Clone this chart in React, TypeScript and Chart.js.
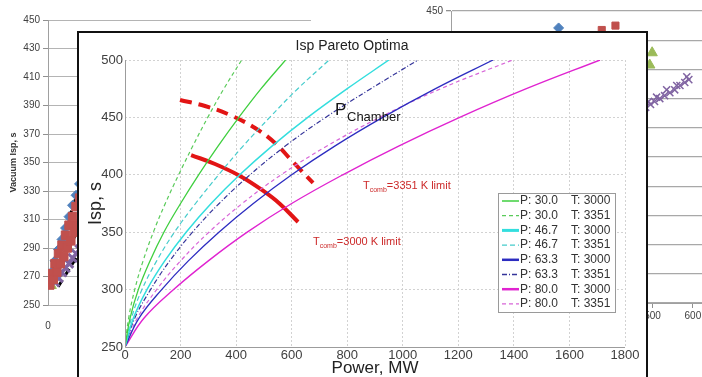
import React, { useEffect, useRef } from "react";
import { Chart, registerables } from "chart.js";

Chart.register(...registerables);

// ---------- Foreground chart: Isp Pareto Optima ----------
const ISP_LEVELS = [250, 275, 300, 325, 350, 375, 400, 425, 450, 475, 500];
const POWER_P30_T3000 = [0, 18, 48, 90, 140, 200, 265, 335, 410, 490, 578];
const POWER_P30_T3351 = [0, 13, 35, 65, 102, 145, 193, 244, 298, 356, 420];
const POWER_P467_T3000 = [0, 30, 79, 143, 220, 310, 413, 529, 658, 800, 950];
const POWER_P467_T3351 = [0, 23, 61, 114, 178, 254, 337, 425, 521, 622, 735];
const POWER_P633_T3000 = [0, 50, 132, 228, 338, 462, 600, 755, 928, 1118, 1325];
const POWER_P633_T3351 = [0, 35, 92, 161, 243, 339, 450, 577, 722, 885, 1055];
const POWER_P80_T3000 = [0, 68, 175, 300, 440, 600, 784, 985, 1205, 1445, 1710];
const POWER_P80_T3351 = [0, 44, 114, 200, 302, 422, 562, 727, 917, 1137, 1395];

const SERIES_P = ["30.0", "30.0", "46.7", "46.7", "63.3", "63.3", "80.0", "80.0"];
const SERIES_T = ["3000", "3351", "3000", "3351", "3000", "3351", "3000", "3351"];
const SERIES_POWER = [
  POWER_P30_T3000, POWER_P30_T3351, POWER_P467_T3000, POWER_P467_T3351,
  POWER_P633_T3000, POWER_P633_T3351, POWER_P80_T3000, POWER_P80_T3351,
];

const LIMIT_3000_POWER = [238, 324, 414, 493, 558, 623];
const LIMIT_3000_ISP = [417.2, 409.4, 399, 386.8, 374.6, 358.9];
const LIMIT_3351_POWER = [198, 288, 378, 468, 540, 605, 677];
const LIMIT_3351_ISP = [465.2, 459.9, 452.1, 440.8, 427.7, 411.1, 392.9];

const FG_X_TICKS = [0, 200, 400, 600, 800, 1000, 1200, 1400, 1600, 1800];
const FG_Y_TICKS = [250, 300, 350, 400, 450, 500];

// ---------- Background left chart (Vacuum Isp) ----------
const BGL_BLUE_X = [3, 10, 20, 30, 40, 50, 60, 70, 80, 90];
const BGL_BLUE_Y = [268, 273, 281, 289, 296, 304, 312, 320, 327, 335];
const BGL_RED_X = [0, 10, 20, 30, 40, 50, 60, 70, 80, 90, 5, 15, 25, 35, 45, 55, 65, 75, 85];
const BGL_RED_Y = [266, 272, 279, 286, 292, 299, 306, 312, 319, 325, 264, 268, 273, 279, 284, 290, 295, 301, 306];
const BGL_GREEN_X = [14, 40, 63];
const BGL_GREEN_Y = [263, 278, 289];
const BGL_PURPLE_X = [20, 30, 40, 50, 60, 70, 80, 90];
const BGL_PURPLE_Y = [266, 269, 273, 276, 279, 283, 286, 289];
const BGL_DASH1_X = [1, 82];
const BGL_DASH1_Y = [267.5, 327];
const BGL_DASH2_X = [10.5, 82];
const BGL_DASH2_Y = [264, 301.4];
const BGL_DASH3_X = [29, 82];
const BGL_DASH3_Y = [262.8, 283.9];
const BGL_X_TICKS = [0];

// ---------- Background right chart ----------
const BGR_BLUE_X = [267];
const BGR_BLUE_Y = [438.4];
const BGR_RED_X = [374, 408];
const BGR_RED_Y = [437, 440];
const BGR_GREEN_X = [499, 493];
const BGR_GREEN_Y = [421.4, 413];
const BGR_PURPLE_X = [483, 495, 505, 518, 530, 543, 555, 568, 580, 590, 490, 510, 535, 560, 585];
const BGR_PURPLE_Y = [384, 386, 388, 390, 392, 394, 396, 399, 401, 403, 388, 391, 396, 399, 405];
const BGR_X_TICKS = [0, 100, 200, 300, 400, 500, 600];

const BG_Y_TICKS = [250, 270, 290, 310, 330, 350, 370, 390, 410, 430, 450];

const pts = (xs: number[], ys: number[]) => xs.map((x, i) => ({ x, y: ys[i] }));

const SERIES_STYLE = [
  { color: "#3fcf3f", dash: [] as number[], width: 1.3 },
  { color: "#5acb5a", dash: [4, 3], width: 1.2 },
  { color: "#33dede", dash: [], width: 1.5 },
  { color: "#45cccc", dash: [5, 3], width: 1.2 },
  { color: "#2c2cc0", dash: [], width: 1.3 },
  { color: "#35359a", dash: [5, 2, 1, 2], width: 1.2 },
  { color: "#e023d0", dash: [], width: 1.4 },
  { color: "#d866d8", dash: [4, 3], width: 1.2 },
];
const LEGEND_WIDTH = [1.5, 1.3, 3, 1.3, 2.5, 1.3, 2.5, 1.3];

const FONT = "'Liberation Sans', Arial, sans-serif";

const fgDecor = {
  id: "fgDecor",
  afterDraw(chart: any) {
    const ctx = chart.ctx as CanvasRenderingContext2D;
    const ca = chart.chartArea;
    ctx.save();
    ctx.strokeStyle = "#9c9c9c";
    ctx.lineWidth = 1;
    ctx.setLineDash([]);
    ctx.beginPath();
    ctx.moveTo(Math.round(ca.left) + 0.5, ca.top);
    ctx.lineTo(Math.round(ca.left) + 0.5, Math.round(ca.bottom) + 0.5);
    ctx.lineTo(ca.right, Math.round(ca.bottom) + 0.5);
    ctx.stroke();

    ctx.fillStyle = "#151515";
    ctx.textBaseline = "alphabetic";
    ctx.textAlign = "left";
    ctx.font = `17px ${FONT}`;
    ctx.fillText("P", 256, 82);
    ctx.font = `13px ${FONT}`;
    ctx.fillText("Chamber", 268, 88);

    const drawLimit = (x: number, y: number, val: string) => {
      ctx.fillStyle = "#cc2a2a";
      ctx.font = `11px ${FONT}`;
      ctx.fillText("T", x, y);
      const tw = ctx.measureText("T").width;
      ctx.font = `7px ${FONT}`;
      ctx.fillText("comb", x + tw, y + 3);
      const cw = ctx.measureText("comb").width;
      ctx.font = `11px ${FONT}`;
      ctx.fillText(`=${val} K limit`, x + tw + cw, y);
    };
    drawLimit(284, 156, "3351");
    drawLimit(234, 212, "3000");

    const lx = 419, ly = 160, lw = 117, lh = 119;
    ctx.fillStyle = "#ffffff";
    ctx.fillRect(lx, ly, lw, lh);
    ctx.strokeStyle = "#9a9a9a";
    ctx.lineWidth = 1;
    ctx.strokeRect(lx + 0.5, ly + 0.5, lw, lh);
    ctx.font = `12px ${FONT}`;
    ctx.textBaseline = "middle";
    for (let i = 0; i < SERIES_P.length; i++) {
      const y = 168 + i * 14.7;
      const st = SERIES_STYLE[i];
      ctx.strokeStyle = st.color;
      ctx.lineWidth = LEGEND_WIDTH[i];
      ctx.setLineDash(st.dash);
      ctx.beginPath();
      ctx.moveTo(423, y);
      ctx.lineTo(440, y);
      ctx.stroke();
      ctx.setLineDash([]);
      ctx.fillStyle = "#333";
      ctx.fillText(`P: ${SERIES_P[i]}`, 441, y);
      ctx.fillText(`T: ${SERIES_T[i]}`, 492, y);
    }
    ctx.restore();
  },
};

export default function App() {
  const bgLeftRef = useRef<HTMLCanvasElement>(null);
  const bgRightRef = useRef<HTMLCanvasElement>(null);
  const fgRef = useRef<HTMLCanvasElement>(null);

  useEffect(() => {
    Chart.defaults.font.family = FONT;
    const charts: Chart[] = [];

    if (bgLeftRef.current) {
      charts.push(
        new Chart(bgLeftRef.current, {
          type: "scatter",
          data: {
            datasets: [
              { data: pts(BGL_RED_X, BGL_RED_Y), pointStyle: "rect", pointRadius: 6, backgroundColor: "#c0504d", borderColor: "#c0504d" },
              { data: pts(BGL_BLUE_X, BGL_BLUE_Y), pointStyle: "rectRot", pointRadius: 5, backgroundColor: "#4f81bd", borderColor: "#4f81bd" },
              { data: pts(BGL_PURPLE_X, BGL_PURPLE_Y), pointStyle: "crossRot", pointRadius: 6, borderWidth: 3, backgroundColor: "#8064a2", borderColor: "#8064a2" },
              { data: pts(BGL_GREEN_X, BGL_GREEN_Y), pointStyle: "triangle", pointRadius: 4, backgroundColor: "#9bbb59", borderColor: "#9bbb59" },
              { data: pts(BGL_DASH1_X, BGL_DASH1_Y), showLine: true, pointRadius: 0, borderColor: "#000", borderWidth: 3, borderDash: [8, 5] },
              { data: pts(BGL_DASH2_X, BGL_DASH2_Y), showLine: true, pointRadius: 0, borderColor: "#000", borderWidth: 3, borderDash: [8, 5] },
              { data: pts(BGL_DASH3_X, BGL_DASH3_Y), showLine: true, pointRadius: 0, borderColor: "#000", borderWidth: 3, borderDash: [8, 5] },
            ],
          },
          options: {
            responsive: false,
            animation: false,
            layout: { padding: { top: 20, right: 19, left: 0, bottom: 0 } },
            plugins: { legend: { display: false }, tooltip: { enabled: false } },
            scales: {
              x: {
                type: "linear", min: 0, max: 750,
                afterBuildTicks: (s: any) => { s.ticks = BGL_X_TICKS.map((v) => ({ value: v })); },
                ticks: { font: { size: 10 }, color: "#404040", padding: 7, callback: (v: any) => String(v) },
                grid: { display: false },
                border: { display: false },
                afterFit: (s: any) => { s.height = 72; },
              },
              y: {
                min: 250, max: 450,
                afterBuildTicks: (s: any) => { s.ticks = BG_Y_TICKS.map((v) => ({ value: v })); },
                ticks: { font: { size: 10 }, color: "#404040", padding: 3 },
                grid: { color: "#b4b4b4", tickLength: 5, tickColor: "#909090" },
                border: { color: "#a0a0a0" },
                title: { display: true, text: "Vacuum Isp, s", font: { size: 9, weight: "bold" }, color: "#333", padding: { top: 8, bottom: 0 } },
                afterFit: (s: any) => { s.width = 48; },
              },
            },
          },
        } as any)
      );
    }

    if (bgRightRef.current) {
      charts.push(
        new Chart(bgRightRef.current, {
          type: "scatter",
          data: {
            datasets: [
              { data: pts(BGR_BLUE_X, BGR_BLUE_Y), pointStyle: "rectRot", pointRadius: 5, backgroundColor: "#4f81bd", borderColor: "#4f81bd" },
              { data: pts(BGR_RED_X, BGR_RED_Y), pointStyle: "rect", pointRadius: 5, backgroundColor: "#c0504d", borderColor: "#c0504d" },
              { data: pts(BGR_GREEN_X, BGR_GREEN_Y), pointStyle: "triangle", pointRadius: 6, backgroundColor: "#9bbb59", borderColor: "#9bbb59" },
              { data: pts(BGR_PURPLE_X, BGR_PURPLE_Y), pointStyle: "crossRot", pointRadius: 5, borderWidth: 1.5, backgroundColor: "#8064a2", borderColor: "#8064a2" },
            ],
          },
          options: {
            responsive: false,
            animation: false,
            layout: { padding: { top: 11, right: 0, left: 0, bottom: 0 } },
            plugins: { legend: { display: false }, tooltip: { enabled: false } },
            scales: {
              x: {
                type: "linear", min: 0, max: 650,
                afterBuildTicks: (s: any) => { s.ticks = BGR_X_TICKS.map((v) => ({ value: v })); },
                ticks: { font: { size: 10 }, color: "#404040", padding: 2, callback: (v: any) => String(v) },
                grid: { drawOnChartArea: false, tickLength: 5, tickColor: "#909090" },
                border: { color: "#a0a0a0" },
                afterFit: (s: any) => { s.height = 74; },
              },
              y: {
                min: 250, max: 450,
                afterBuildTicks: (s: any) => { s.ticks = BG_Y_TICKS.map((v) => ({ value: v })); },
                ticks: { font: { size: 10 }, color: "#404040", padding: 3 },
                grid: { color: "#a8a8a8", lineWidth: 1.3, tickLength: 5, tickColor: "#909090" },
                border: { color: "#a0a0a0" },
                afterFit: (s: any) => { s.width = 51; },
              },
            },
          },
        } as any)
      );
    }

    if (fgRef.current) {
      const datasets: any[] = SERIES_POWER.map((xs, i) => ({
        data: pts(xs, ISP_LEVELS),
        borderColor: SERIES_STYLE[i].color,
        borderDash: SERIES_STYLE[i].dash,
        borderWidth: SERIES_STYLE[i].width,
        pointRadius: 0,
        tension: 0.4,
        fill: false,
      }));
      datasets.push({
        data: pts(LIMIT_3000_POWER, LIMIT_3000_ISP),
        borderColor: "#e21515", borderWidth: 4, pointRadius: 0, tension: 0.4, fill: false,
      });
      datasets.push({
        data: pts(LIMIT_3351_POWER, LIMIT_3351_ISP),
        borderColor: "#e21515", borderWidth: 4, borderDash: [12, 7], pointRadius: 0, tension: 0.4, fill: false,
      });
      charts.push(
        new Chart(fgRef.current, {
          type: "line",
          data: { datasets },
          options: {
            responsive: false,
            animation: false,
            layout: { padding: { top: 0, right: 21, left: 0, bottom: 0 } },
            plugins: {
              legend: { display: false },
              tooltip: { enabled: false },
              title: {
                display: true,
                text: "Isp Pareto Optima",
                font: { size: 14, weight: "normal" },
                color: "#222",
                padding: { top: 4.6, bottom: 5.6 },
              },
            },
            scales: {
              x: {
                type: "linear", min: 0, max: 1800,
                afterBuildTicks: (s: any) => { s.ticks = FG_X_TICKS.map((v) => ({ value: v })); },
                ticks: { font: { size: 13 }, color: "#404040", padding: 1, maxRotation: 0, callback: (v: any) => String(v) },
                grid: { color: "#d2d2d2", drawTicks: false },
                border: { display: false, dash: [2, 2] },
                title: { display: true, text: "Power, MW", font: { size: 17 }, color: "#222", padding: { top: 0, bottom: 4 } },
                afterFit: (s: any) => { s.height = 36; },
              },
              y: {
                type: "linear", min: 250, max: 500,
                afterBuildTicks: (s: any) => { s.ticks = FG_Y_TICKS.map((v) => ({ value: v })); },
                ticks: { font: { size: 13 }, color: "#404040", padding: 2, callback: (v: any) => String(v) },
                grid: { color: "#d2d2d2", drawTicks: false },
                border: { display: false, dash: [2, 2] },
                title: { display: true, text: "Isp, s", font: { size: 18 }, color: "#222", padding: { top: 6, bottom: 0 } },
                afterFit: (s: any) => { s.width = 46; },
              },
            },
          },
          plugins: [fgDecor],
        } as any)
      );
    }

    return () => charts.forEach((c) => c.destroy());
  }, []);

  return (
    <div style={{ position: "absolute", left: 0, top: 0, width: 702, height: 377, overflow: "hidden", background: "#fff" }}>
      <div style={{ position: "absolute", left: 0, top: 0, width: 330, height: 377 }}>
        <canvas ref={bgLeftRef} width={330} height={377} style={{ width: 330, height: 377, display: "block" }} />
      </div>
      <div style={{ position: "absolute", left: 400, top: 0, width: 320, height: 377 }}>
        <canvas ref={bgRightRef} width={320} height={377} style={{ width: 320, height: 377, display: "block" }} />
      </div>
      <div style={{ position: "absolute", left: 77, top: 31, width: 567, height: 360, border: "2px solid #111", background: "#fff" }}>
        <canvas ref={fgRef} width={567} height={350} style={{ width: 567, height: 350, display: "block" }} />
      </div>
    </div>
  );
}
